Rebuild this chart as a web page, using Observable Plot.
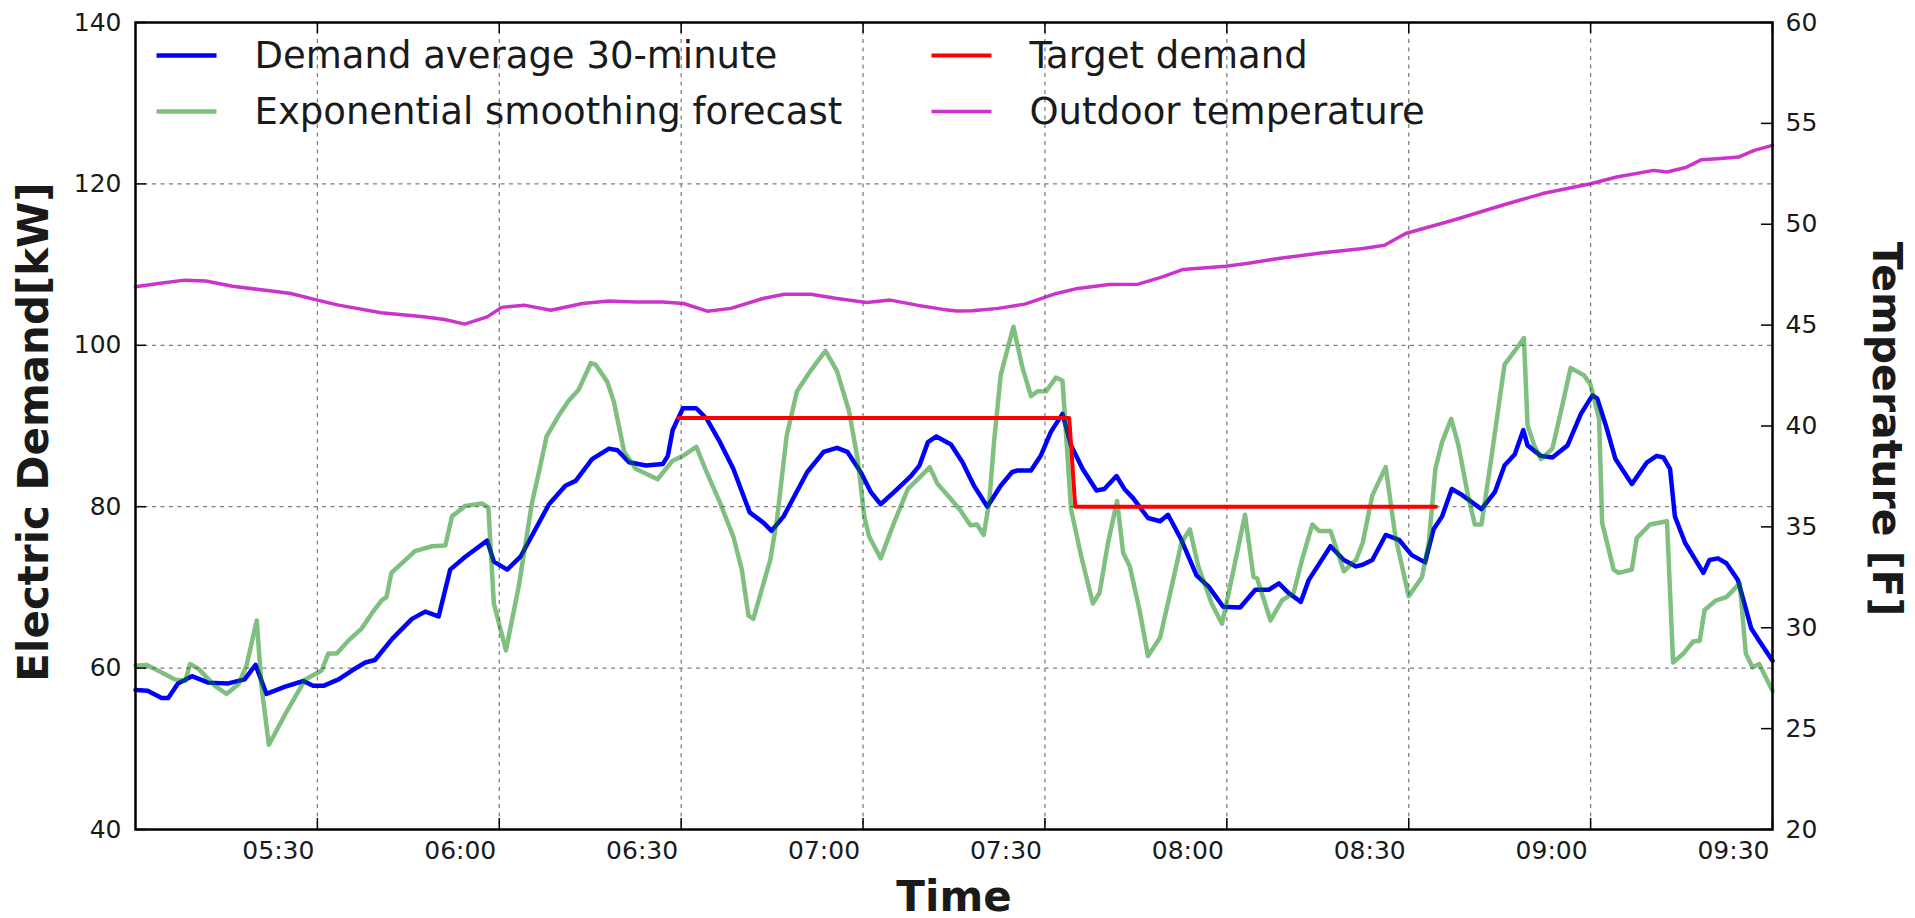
<!DOCTYPE html>
<html>
<head>
<meta charset="utf-8">
<script src="https://cdn.jsdelivr.net/npm/d3@7"></script>
<script src="https://cdn.jsdelivr.net/npm/@observablehq/plot@0.6"></script>
<style>
  html, body { margin: 0; padding: 0; background: #fff; }
  #chart { width: 1915px; height: 918px; }
</style>
</head>
<body>
<div id="chart"></div>
<script>
// ---------- data (time = minutes after 05:00) ----------
const xDomain = ["05:00", "09:30"];
const xTickLabels = ["05:30","06:00","06:30","07:00","07:30","08:00","08:30","09:00","09:30"];
const demandTicks = [40, 60, 80, 100, 120, 140];
const demandGrid = [60, 80, 100, 120];
const demandDomain = [40, 140];
const tempTicks = [20, 25, 30, 35, 40, 45, 50, 55, 60];
const tempDomain = [20, 60];

const seriesNames = ["Demand average 30-minute", "Exponential smoothing forecast", "Target demand", "Outdoor temperature"];

const demandMin = [0,2,4.3,5.4,7,9.3,12,15.3,18,19.8,
  21.6,24.7,27.7,29.3,31,33.5,35.7,37.9,39.5,42.3,
  45.6,47.8,50,51.9,54.4,58,59.1,61.3,63.5,68.2,
  70.9,72.6,75.3,78.1,79.5,81.4,84.2,87,87.8,88.6,
  90.3,92.5,94.2,96.4,98.6,101.3,103.6,104.9,106.9,110.8,
  113.5,115.7,117.4,119.6,121.3,122.9,125.1,127.9,129.3,130.7,
  132.1,134.5,136.4,138.3,140.5,142.7,144.6,145.5,147.7,149.3,
  151,152.9,154.3,156.2,158.5,159.8,161.8,163.1,164.5,167,
  169,170.3,172.5,175,177,179.4,182.2,184.7,186.9,188.6,
  190.2,192.2,193.5,197.1,199.3,201.3,202.4,204,206.2,208.4,
  210.5,212.7,214.1,215.5,217.1,218.7,222,224.2,225.8,227.5,
  228.9,229.6,231.8,233.7,236.2,238.4,240.3,241.1,242.5,244.1,
  246.8,249.3,250.9,252,253.1,253.9,255.6,258.6,259.6,261,
  262.4,264.3,266.5,267.8,270];
const demandKW = [57.3,57.2,56.3,56.3,58.1,59.0,58.2,58.1,58.6,60.4,
  56.8,57.7,58.4,57.8,57.8,58.6,59.7,60.7,61.0,63.6,
  66.1,67.0,66.4,72.2,73.8,75.8,73.2,72.2,73.8,80.3,
  82.6,83.2,85.9,87.2,87.0,85.5,85.1,85.3,86.3,89.5,
  92.2,92.2,90.9,88.0,84.7,79.3,78.0,77.0,78.8,84.3,
  86.8,87.3,86.8,84.3,81.8,80.3,81.8,83.8,85.1,88.0,
  88.7,87.7,85.5,82.6,80.0,82.6,84.3,84.5,84.5,86.3,
  89.3,91.5,87.6,84.7,82.0,82.2,83.8,82.2,81.1,78.6,
  78.2,79.0,75.9,71.5,70.1,67.6,67.5,69.7,69.7,70.5,
  69.3,68.2,70.9,75.1,73.4,72.6,72.8,73.4,76.5,75.9,
  74.0,73.1,77.2,78.8,82.2,81.5,79.7,81.8,85.1,86.5,
  89.5,87.6,86.3,86.1,87.6,91.5,93.8,93.4,90.1,85.9,
  82.8,85.5,86.3,86.1,84.7,78.8,75.5,71.8,73.4,73.6,
  73.0,70.9,64.9,63.4,60.9];

const forecastMin = [0,1.8,3.7,6.5,8.2,9,10.4,13.1,15,17,
  18.3,20,20.8,22,24.7,28,30.7,31.8,33.2,35.1,
  37.3,39,40.6,41.4,42.2,46.1,48.9,51.1,52.2,54.4,
  57.1,58.2,59.1,61.1,63.2,65.4,66.6,67.8,69.8,71.5,
  73.1,75.1,75.9,77.8,78.9,80.6,82.5,86.1,88.6,90.3,
  92.5,94.2,96.4,98.6,100,101.1,101.9,104.7,105.8,107.4,
  109.1,111.3,113.8,115.7,117.7,119.1,120.2,121,122.9,125.1,
  127.4,129.3,131,132.3,134.2,136.1,137.7,138.8,139.9,140.8,
  141.6,142.7,144.8,146.3,147.7,148.8,150.2,151.8,152.9,153.5,
  154.3,156,157.9,159,160.4,161.9,162.9,164,165.6,167,
  169,170.9,172.5,173.9,175.3,177.5,179.2,180.3,183,184.4,
  185,187.2,189.1,191,192.4,194.1,195.2,197.1,199.3,201.3,
  202.4,204,206.2,207.8,210,212.2,213.3,214.4,215.5,217,
  218.2,219.8,220.9,222,223.6,225.8,227.5,229,229.6,230.7,
  231.8,233.7,235.1,236.7,238.9,240,241.4,241.9,243.8,244.6,
  246.8,247.6,249.8,252.6,253.6,255.3,256.9,258,258.8,260.7,
  262.4,264.6,265.6,266.7,267.8,270];
const forecastKW = [60.3,60.4,59.7,58.6,58.4,60.5,59.9,57.8,56.8,58.0,
  60.3,65.9,57.6,50.5,54.3,58.6,59.7,61.8,61.8,63.4,
  64.9,66.8,68.4,68.8,71.8,74.5,75.1,75.2,78.8,80.1,
  80.4,79.9,68.0,62.2,70.1,80.5,84.5,88.7,91.3,93.2,
  94.5,97.8,97.6,95.5,93.0,86.8,84.7,83.4,85.7,86.3,
  87.4,84.3,80.5,76.3,72.2,66.5,66.1,73.4,78.4,88.8,
  94.3,96.8,99.3,96.8,91.8,85.9,78.8,76.3,73.6,78.0,
  82.2,83.6,84.9,82.8,81.2,79.5,77.7,77.8,76.5,80.5,
  88.0,96.3,102.3,97.2,93.7,94.3,94.3,96.0,95.6,88.8,
  79.7,73.8,68.0,69.3,75.5,80.7,74.3,72.6,67.2,61.5,
  63.8,70.1,75.5,77.2,72.6,68.0,65.5,69.3,79.0,71.3,
  71.1,65.9,68.4,69.3,73.4,77.8,77.0,77.0,72.0,73.4,
  75.5,81.4,84.9,76.3,68.9,71.3,75.5,84.7,88.0,90.9,
  87.6,81.3,77.8,77.8,85.9,97.6,99.3,100.9,90.1,87.6,
  85.9,87.2,91.8,97.2,96.3,95.1,90.9,78.0,72.2,71.8,
  72.2,76.1,77.8,78.2,60.7,61.8,63.3,63.4,67.2,68.4,
  68.8,70.5,61.8,60.1,60.5,57.2];

const targetMin = [89.5, 154, 155, 214.5];
const targetKW = [91, 91, 80, 80];

const tempMin = [0,3.8,8.1,11.6,16,22.1,25.6,30,33.5,40.5,
  47.5,51,54.3,58,60.4,64.1,68.5,73.7,78.1,82.5,
  86.9,90.4,94.3,98.2,103.5,107,111.4,115.7,120.6,124.5,
  128.9,133.2,135.5,138,142.3,146.7,151.9,155.4,160.6,165.4,
  169.4,172.8,179.8,183.3,188.5,195.5,202.5,206,209.5,217.3,
  226,232.1,240,244.3,250.4,252.6,255.7,258.3,260.9,264.4,
  267,270];
const tempF = [46.9,47.06,47.23,47.19,46.93,46.7,46.57,46.24,45.99,45.61,
  45.41,45.28,45.05,45.41,45.88,45.99,45.74,46.07,46.2,46.15,
  46.15,46.07,45.69,45.83,46.32,46.53,46.53,46.32,46.12,46.24,
  45.99,45.78,45.7,45.71,45.83,46.04,46.57,46.82,47.01,47.03,
  47.39,47.76,47.92,48.05,48.3,48.58,48.8,48.96,49.54,50.2,
  50.99,51.52,52.01,52.34,52.67,52.59,52.81,53.2,53.25,53.33,
  53.66,53.91];

// ---------- helpers ----------
const parseHM = d3.utcParse("%H:%M");
const t0 = parseHM(xDomain[0]).getTime();
const toDate = m => new Date(t0 + m * 60000);
const xTicks = xTickLabels.map(parseHM);
// temperature axis mapped onto the demand axis (twin axis)
const tempToKW = d3.scaleLinear().domain(tempDomain).range(demandDomain);

const zip = (ms, vs) => ms.map((m, i) => ({time: toDate(m), value: vs[i]}));
const demand = zip(demandMin, demandKW);
const forecast = zip(forecastMin, forecastKW);
const target = zip(targetMin, targetKW);
const temperature = zip(tempMin, tempF);

// ---------- layout ----------
const W = 1915, H = 918;
const mL = 135, mR = 143, mT = 22, mB = 89;
const plotW = W - mL - mR, plotH = H - mT - mB;
const FONT = "DejaVu Sans";
const TICK = 11;

const colors = ["#0000ff", "#008000", "#ff0000", "#bf00bf"];
const opac = [1, 0.5, 1, 0.8];
const widths = [4.5, 4.5, 4, 3.5];

const lineSymbol = {draw(ctx) { ctx.moveTo(-30, 0); ctx.lineTo(30, 0); }};
const legendPos = [[51, 33], [51, 89], [826, 33], [826, 89]];
const legendMarks = seriesNames.flatMap((name, i) => [
  Plot.dot([name], {frameAnchor: "top-left", dx: legendPos[i][0], dy: legendPos[i][1],
    symbol: lineSymbol, fill: "none", stroke: colors[i], strokeOpacity: opac[i], strokeWidth: widths[i]}),
  Plot.text([name], {frameAnchor: "top-left", dx: legendPos[i][0] + 68, dy: legendPos[i][1] + 1,
    text: d => d, textAnchor: "start", lineAnchor: "middle", fontSize: 37, fill: "#1a1a1a"})
]);

const gridStyle = {stroke: "#808080", strokeOpacity: 1, strokeWidth: 1.3, strokeDasharray: "4,4.5"};

const chart = Plot.plot({
  width: W, height: H,
  marginLeft: mL, marginRight: mR, marginTop: mT, marginBottom: mB,
  style: {fontFamily: FONT, background: "white", color: "#1a1a1a", overflow: "visible"},
  x: {type: "utc", domain: xDomain.map(parseHM)},
  y: {domain: demandDomain},
  marks: [
    Plot.gridX(xTicks, gridStyle),
    Plot.gridY(demandGrid, gridStyle),
    Plot.line(demand, {x: "time", y: "value", stroke: colors[0], strokeWidth: widths[0]}),
    Plot.line(forecast, {x: "time", y: "value", stroke: colors[1], strokeOpacity: opac[1], strokeWidth: widths[1]}),
    Plot.line(target, {x: "time", y: "value", stroke: colors[2], strokeWidth: widths[2]}),
    Plot.line(temperature, {x: "time", y: d => tempToKW(d.value), stroke: colors[3], strokeOpacity: opac[3], strokeWidth: widths[3]}),
    // inward tick marks
    Plot.tickX(xTicks, {x: d => d, insetTop: plotH - TICK, stroke: "black", strokeWidth: 1.5}),
    Plot.tickX(xTicks, {x: d => d, insetBottom: plotH - TICK, stroke: "black", strokeWidth: 1.5}),
    Plot.tickY(demandTicks, {y: d => d, insetRight: plotW - TICK, stroke: "black", strokeWidth: 1.5}),
    Plot.tickY(tempTicks, {y: d => tempToKW(d), insetLeft: plotW - TICK, stroke: "black", strokeWidth: 1.5}),
    // axes (labels only)
    Plot.axisX(xTicks, {anchor: "bottom", tickSize: 0, tickPadding: 12, textAnchor: "end", dx: -3,
      tickFormat: d3.utcFormat("%H:%M"), fontSize: 25, label: null}),
    Plot.axisY(demandTicks, {anchor: "left", tickSize: 0, tickPadding: 14, fontSize: 25, label: null}),
    Plot.axisY(tempTicks.map(d => tempToKW(d)), {anchor: "right", tickSize: 0, tickPadding: 13, fontSize: 25,
      tickFormat: v => d3.format("d")(Math.round(tempToKW.invert(v))), label: null}),
    // axis titles
    Plot.text(["Time"], {frameAnchor: "bottom", dy: 68, text: d => d, textAnchor: "middle", fontWeight: "bold", fontSize: 42, lineAnchor: "middle"}),
    Plot.text(["Electric Demand[kW]"], {frameAnchor: "left", dx: -101, dy: 6, rotate: -90, text: d => d, textAnchor: "middle", fontWeight: "bold", fontSize: 42, lineAnchor: "middle"}),
    Plot.text(["Temperature [F]"], {frameAnchor: "right", dx: 114, dy: 3, rotate: 90, text: d => d, textAnchor: "middle", fontWeight: "bold", fontSize: 41, lineAnchor: "middle"}),
    ...legendMarks,
    Plot.frame({stroke: "black", strokeWidth: 2.5})
  ]
});
document.getElementById("chart").append(chart);
</script>
</body>
</html>
